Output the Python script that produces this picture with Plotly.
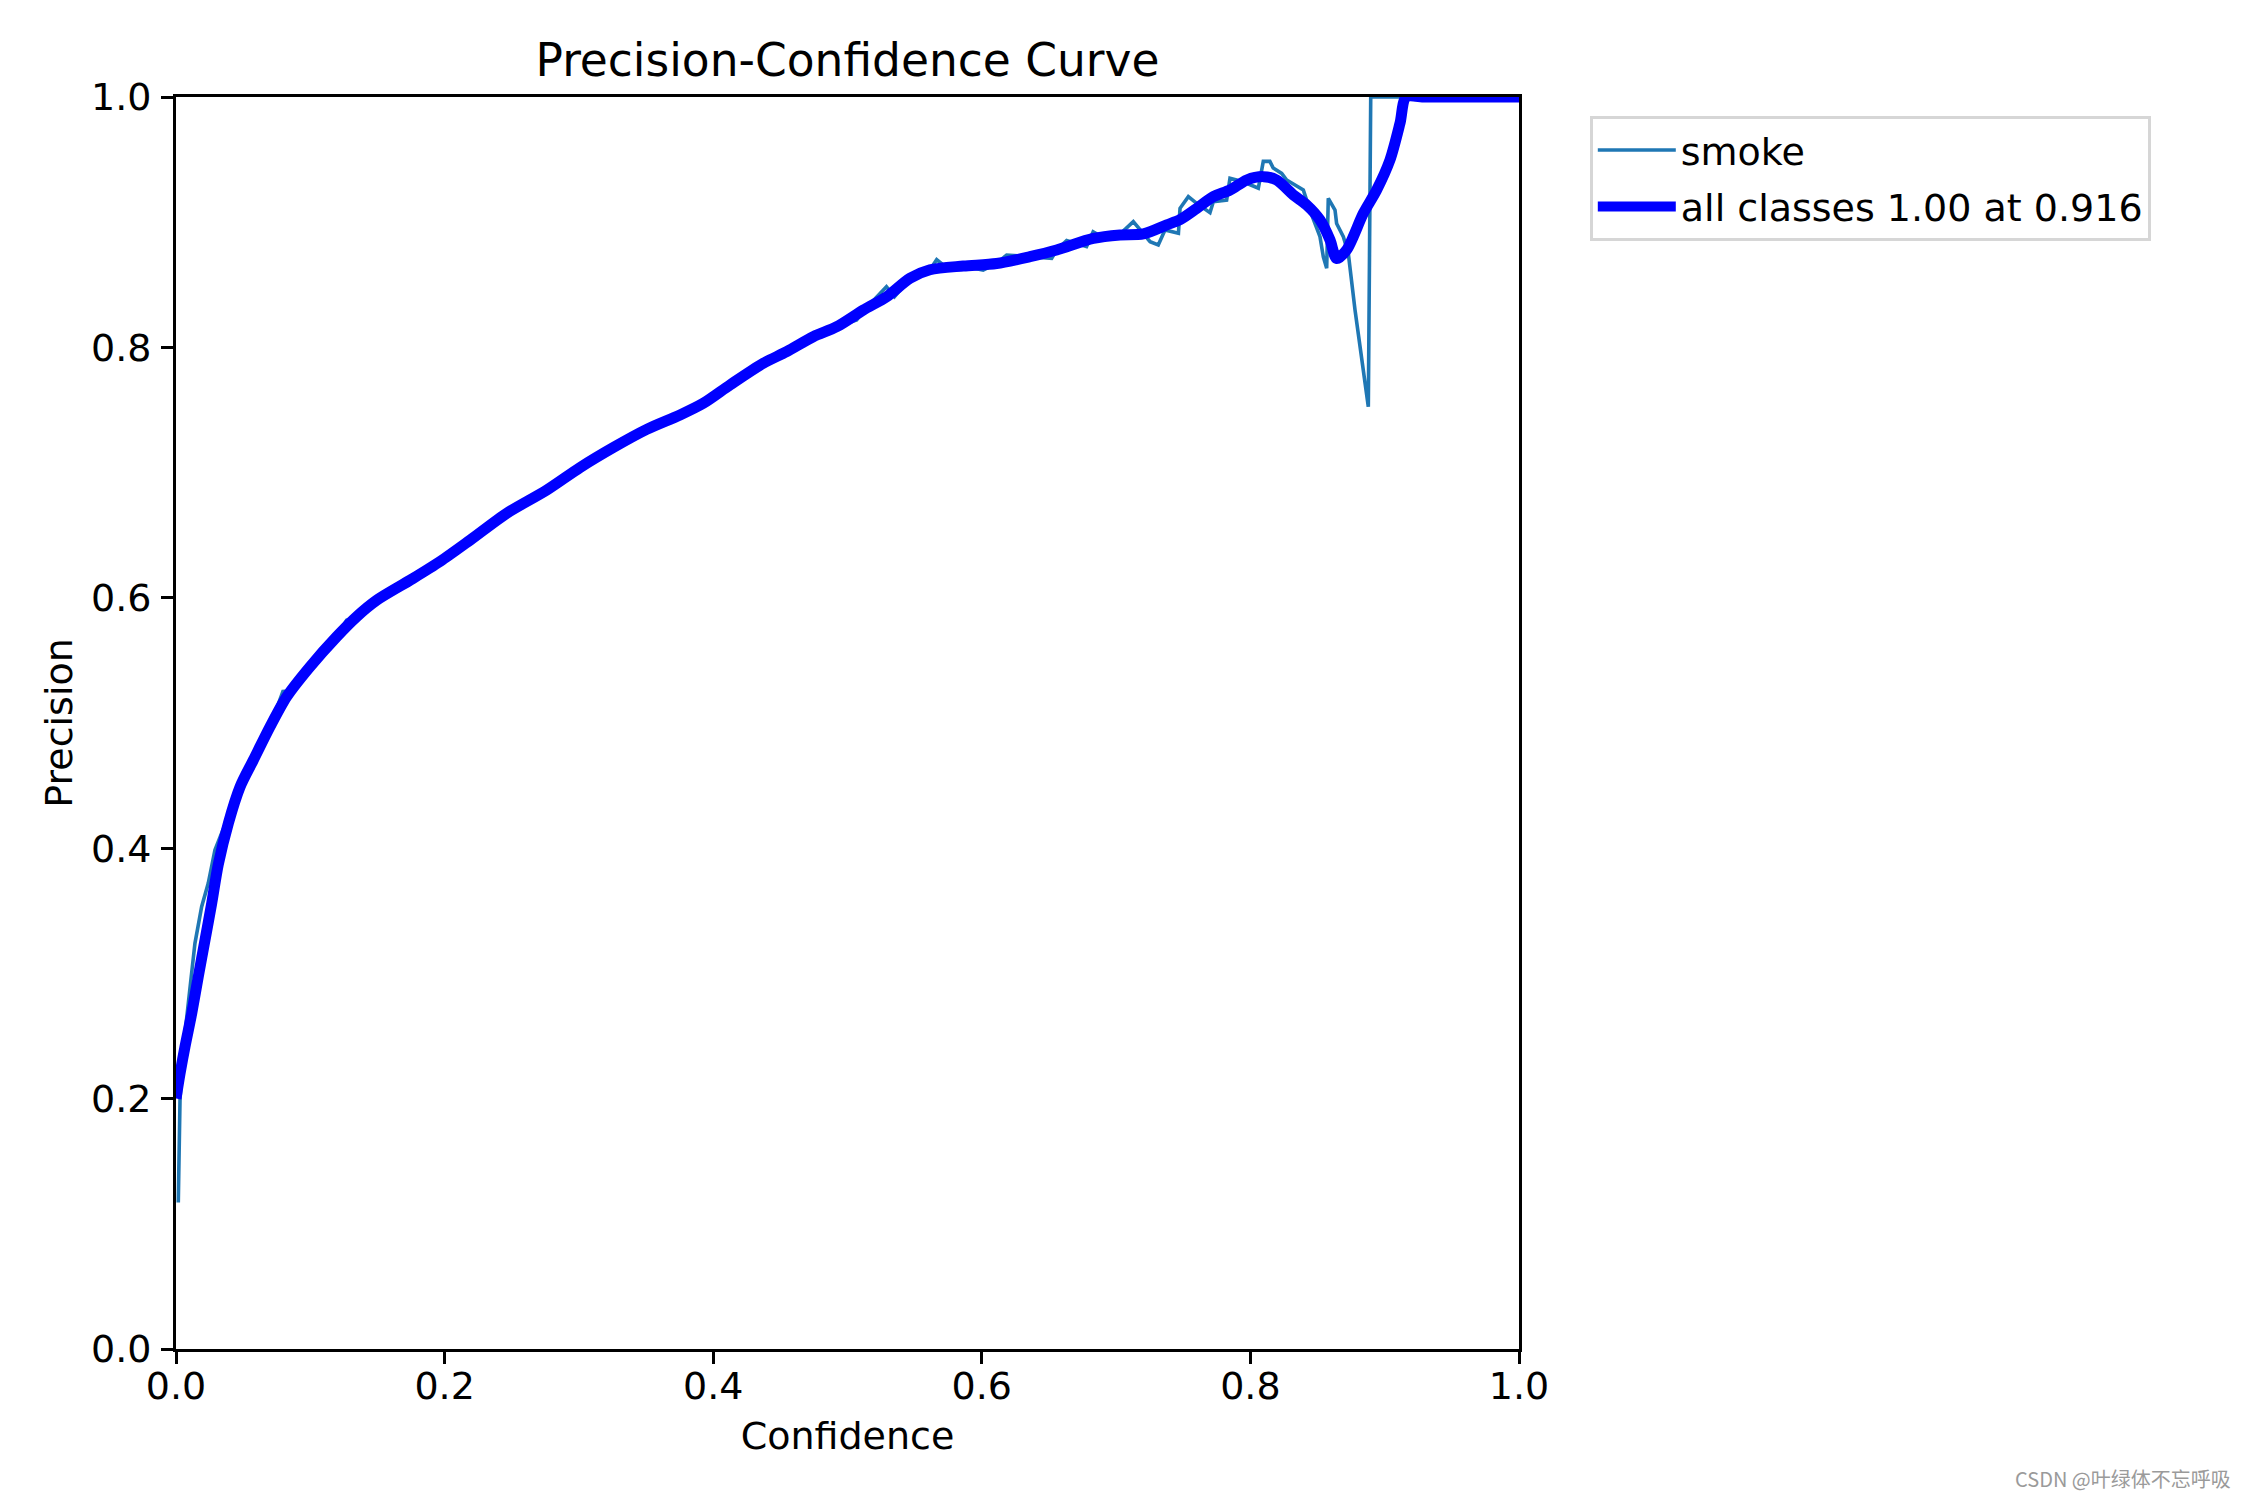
import plotly.graph_objects as go

# ---- data ----
conf_all = [0.0, 0.003, 0.0067, 0.0117, 0.0166, 0.0216, 0.0266, 0.0315, 0.039, 0.0477,
            0.0576, 0.07, 0.0824, 0.0998, 0.1197, 0.1346, 0.1494, 0.1742, 0.1966, 0.2189,
            0.2462, 0.276, 0.3008, 0.3256, 0.3505, 0.3753, 0.3926, 0.4125, 0.4373, 0.4547,
            0.4745, 0.492, 0.5118, 0.5292, 0.5465, 0.5614, 0.5863, 0.611, 0.6359, 0.6557,
            0.683, 0.7029, 0.7203, 0.7377, 0.7476, 0.76, 0.7724, 0.7848, 0.7972, 0.8096,
            0.8195, 0.832, 0.8419, 0.8518, 0.8593, 0.8642, 0.8716, 0.8841, 0.894, 0.9039,
            0.9114, 0.916, 0.93, 0.96, 1.0]
prec_all = [0.2, 0.22, 0.2415, 0.268, 0.2974, 0.3267, 0.356, 0.387, 0.420, 0.449,
            0.4704, 0.497, 0.521, 0.545, 0.569, 0.585, 0.598, 0.614, 0.629, 0.646,
            0.6675, 0.686, 0.704, 0.720, 0.7345, 0.746, 0.7553, 0.770, 0.7873, 0.7966,
            0.8085, 0.8165, 0.8299, 0.8405, 0.8552, 0.862, 0.865, 0.867, 0.8725, 0.8778,
            0.887, 0.8898, 0.8906, 0.8978, 0.902, 0.911, 0.9204, 0.9257, 0.9337, 0.9364,
            0.9337, 0.9217, 0.9137, 0.9018, 0.8858, 0.871, 0.8778, 0.9071, 0.9257, 0.9497,
            0.9791, 1.0, 1.0, 1.0, 1.0]

conf_smoke = [0.0017, 0.003, 0.0067, 0.0104, 0.0141, 0.0191, 0.024, 0.029, 0.0345, 0.039,
              0.0477, 0.0576, 0.07, 0.0799, 0.0824, 0.0998, 0.1197, 0.127, 0.1346, 0.1494,
              0.1742, 0.1966, 0.2189, 0.2462, 0.276, 0.3008, 0.3256, 0.3505, 0.3753, 0.3926,
              0.4125, 0.4373, 0.4547, 0.4745, 0.492, 0.5068, 0.5118, 0.529, 0.535, 0.5465,
              0.5614, 0.5664, 0.571, 0.5863, 0.601, 0.611, 0.6185, 0.6359, 0.652, 0.6557,
              0.6632, 0.678, 0.6829, 0.6900, 0.7029, 0.7128, 0.7253, 0.7314, 0.7364, 0.7464,
              0.7476, 0.7538, 0.76, 0.7699, 0.7724, 0.7823, 0.7848, 0.7897, 0.7972, 0.8059,
              0.8096, 0.8145, 0.817, 0.8233, 0.827, 0.8345, 0.8394, 0.8443, 0.8518, 0.8543,
              0.8568, 0.858, 0.863, 0.8642, 0.8692, 0.8729, 0.8779, 0.8878, 0.8896, 1.0]
prec_smoke = [0.117, 0.2, 0.2523, 0.289, 0.324, 0.3533, 0.372, 0.3986, 0.414, 0.425,
              0.449, 0.4704, 0.497, 0.526, 0.521, 0.545, 0.569, 0.582, 0.585, 0.598,
              0.614, 0.629, 0.646, 0.6675, 0.686, 0.704, 0.720, 0.7345, 0.746, 0.7553,
              0.770, 0.7873, 0.7966, 0.8085, 0.8165, 0.8219, 0.829, 0.8485, 0.8405, 0.8552,
              0.862, 0.870, 0.866, 0.865, 0.8618, 0.867, 0.8738, 0.8725, 0.8711, 0.8778,
              0.8853, 0.8805, 0.8924, 0.8880, 0.8906, 0.9004, 0.8844, 0.8818, 0.8938, 0.8911,
              0.9111, 0.9204, 0.9151, 0.9076, 0.9164, 0.9177, 0.9351, 0.9337, 0.9311, 0.9271,
              0.9486, 0.9486, 0.9432, 0.939, 0.9337, 0.9289, 0.9257, 0.9097, 0.8884, 0.8724,
              0.8632, 0.919, 0.9097, 0.899, 0.8884, 0.8751, 0.8299, 0.7526, 1.0, 1.0]

best_conf = 0.916
best_prec = 1.00
tick_vals = [0.0, 0.2, 0.4, 0.6, 0.8, 1.0]
tick_text = ["0.0", "0.2", "0.4", "0.6", "0.8", "1.0"]

FONT = "DejaVu Sans"
FS = 38

fig = go.Figure()
fig.add_trace(go.Scatter(x=conf_smoke, y=prec_smoke, mode="lines", name="smoke",
                         legendgroup="a",
                         line=dict(color="#1f77b4", width=3.6)))
fig.add_trace(go.Scatter(x=conf_all, y=prec_all, mode="lines",
                         name=f"all classes {best_prec:.2f} at {best_conf:.3f}",
                         legendgroup="b",
                         line=dict(color="#0000ff", width=11, shape="spline", smoothing=0.8)))

axis_common = dict(range=[0, 1], tickvals=tick_vals, ticktext=tick_text,
                   showgrid=False, zeroline=False, showline=True, mirror=True,
                   linecolor="black", linewidth=2.9, ticks="outside", ticklen=12,
                   tickwidth=2.9, tickcolor="black",
                   tickfont=dict(family=FONT, size=FS, color="black"))

# the page body adds an 8px offset; the figure is sized to compensate
fig.update_layout(
    width=2242, height=1492,
    paper_bgcolor="white", plot_bgcolor="white",
    margin=dict(l=168, r=731, t=89, b=151),
    title=dict(text="Precision-Confidence Curve", x=0.5, xref="paper", xanchor="center",
               y=1 - 52 / 1492, yanchor="middle",
               font=dict(family=FONT, size=45.5, color="black")),
    xaxis=dict(**axis_common, ticklabelstandoff=-11,
               title=dict(text="Confidence", standoff=16,
                          font=dict(family=FONT, size=FS, color="black"))),
    yaxis=dict(**axis_common, ticklabelstandoff=2,
               title=dict(text="Precision", standoff=7,
                          font=dict(family=FONT, size=FS, color="black"))),
    legend=dict(x=(1590 - 176) / 1343, y=(1349 - 116) / 1252, xanchor="left", yanchor="top",
                bgcolor="white", bordercolor="#d6d6d6", borderwidth=2.8,
                font=dict(family=FONT, size=FS, color="black"),
                itemwidth=78, tracegroupgap=4),
    showlegend=True,
)

fig.add_annotation(text="CSDN @叶绿体不忘呼吸", xref="paper", yref="paper",
                   x=(2233 - 176) / 1343, y=(1349 - 1478) / 1252,
                   xanchor="right", yanchor="middle", showarrow=False,
                   font=dict(family="Noto Sans CJK SC", size=20, color="#9a9a9a"))

fig.write_html("out.html")
